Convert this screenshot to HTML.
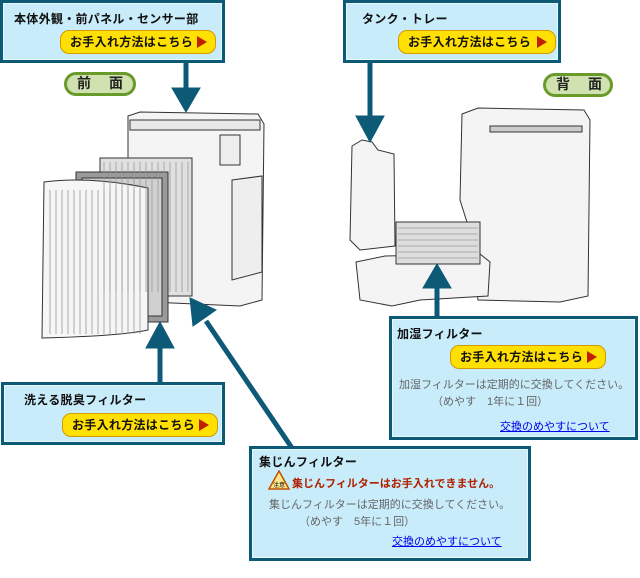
<!DOCTYPE html>
<html><head><meta charset="utf-8"><style>
body{margin:0;width:640px;height:578px;background:#fff;position:relative;overflow:hidden;font-family:"Liberation Sans","Noto Sans CJK JP",sans-serif;}
.box{position:absolute;background:#c8ecfa;border:3px solid #0d5a77;box-shadow:inset 0 0 0 1px #e8f8ff;box-sizing:border-box;}
.t{position:absolute;font-size:12px;font-weight:bold;color:#111;white-space:nowrap;letter-spacing:0.3px}
.btn{position:absolute;height:24px;background:#ffe000;border:1px solid #d49a00;border-radius:9px;box-sizing:border-box;font-size:12px;font-weight:bold;color:#111;line-height:22px;padding-left:9px;white-space:nowrap;letter-spacing:0.3px}
.btn:after{content:"";position:absolute;right:8px;top:5px;border-left:10px solid #c02000;border-top:6px solid transparent;border-bottom:6px solid transparent}
.g{position:absolute;font-size:11px;color:#666;white-space:nowrap}
.lk{position:absolute;font-size:11px;color:#0000ee;text-decoration:underline;white-space:nowrap}
.pill{position:absolute;background:#cfe2b0;border:3px solid #6a9a2a;border-radius:12px;box-sizing:border-box;font-size:14px;font-weight:bold;color:#222;line-height:17px;}
</style></head><body>
<svg width="640" height="578" style="position:absolute;left:0;top:0">
<g stroke="#333" stroke-width="1" fill="#f4f4f4">
<path d="M128 116 L140 112 L258 114 L264 124 L262 300 L240 306 L150 302 L128 298 Z"/>
<rect x="130" y="120" width="130" height="10" fill="#e8e8e8"/>
<path d="M232 180 L262 176 L262 272 L232 280 Z" fill="#eee"/>
<rect x="220" y="135" width="20" height="30" fill="#eee"/>
<rect x="100" y="158" width="92" height="138" fill="#e0e0e0"/>
<rect x="76" y="172" width="92" height="150" fill="#9a9a9a"/>
<rect x="82" y="178" width="80" height="138" fill="#d0d0d0"/>
<path d="M44 182 Q90 176 148 188 L148 330 Q120 336 42 338 Z" fill="#f6f6f6"/>
<path d="M462 114 L478 108 L584 110 L590 120 L588 296 L560 302 L478 300 L472 238 L460 200 Z"/>
<rect x="490" y="126" width="92" height="6" fill="#ccc"/>
<path d="M352 146 L362 140 L372 142 L378 150 L394 154 L395 246 L360 250 L350 240 Z"/>
<path d="M356 262 L385 256 L480 254 L490 262 L488 296 L420 300 L392 306 L360 300 Z"/>
<rect x="396" y="222" width="84" height="42" fill="#ddd"/>
</g>
<g stroke="#999" stroke-width="0.8">
<path d="M50 190V334M56 190V334M62 190V334M68 190V334M74 190V334M80 190V334M86 190V334M92 190V334M98 190V334M104 190V334M110 190V334M116 190V334M122 190V334M128 190V334M134 190V334M140 190V334"/>
<path d="M104 162V292M110 162V292M116 162V292M122 162V292M128 162V292M134 162V292M140 162V292M146 162V292M152 162V292M158 162V292M164 162V292M170 162V292M176 162V292M182 162V292M188 162V292"/>
<path d="M398 228H478M398 234H478M398 240H478M398 246H478M398 252H478M398 258H478"/>
</g>
<g fill="#0d5a77" stroke="#0d5a77">
<line x1="186" y1="62" x2="186" y2="92" stroke-width="5"/><polygon points="172,88 200,88 186,112"/>
<line x1="370" y1="62" x2="370" y2="120" stroke-width="5"/><polygon points="356,116 384,116 370,142"/>
<line x1="437" y1="316" x2="437" y2="286" stroke-width="5"/><polygon points="423,288 451,288 437,264"/>
<line x1="160" y1="382" x2="160" y2="345" stroke-width="5"/><polygon points="146,348 174,348 160,322"/>
<line x1="292" y1="448" x2="206" y2="321" stroke-width="5"/><polygon points="190,298 193,326 216,310"/>
</g>
</svg>
<div class="pill" style="left:64px;top:72px;width:72px;height:24px;"><span style="position:absolute;left:10px">前</span><span style="position:absolute;left:42px">面</span></div>
<div class="pill" style="left:543px;top:73px;width:70px;height:24px;"><span style="position:absolute;left:10px">背</span><span style="position:absolute;left:42px">面</span></div>

<div class="box" style="left:0;top:0;width:225px;height:63px"></div>
<div class="t" style="left:14px;top:10px">本体外観・前パネル・センサー部</div>
<div class="btn" style="left:60px;top:30px;width:156px">お手入れ方法はこちら</div>

<div class="box" style="left:343px;top:0;width:218px;height:63px"></div>
<div class="t" style="left:362px;top:10px">タンク・トレー</div>
<div class="btn" style="left:398px;top:30px;width:158px">お手入れ方法はこちら</div>

<div class="box" style="left:389px;top:316px;width:249px;height:124px"></div>
<div class="t" style="left:397px;top:325px">加湿フィルター</div>
<div class="btn" style="left:450px;top:345px;width:156px">お手入れ方法はこちら</div>
<div class="g" style="left:399px;top:376px">加湿フィルターは定期的に交換してください。</div>
<div class="g" style="left:432px;top:393px">（めやす　1年に１回）</div>
<div class="lk" style="left:500px;top:418px">交換のめやすについて</div>

<div class="box" style="left:1px;top:382px;width:224px;height:63px"></div>
<div class="t" style="left:24px;top:391px">洗える脱臭フィルター</div>
<div class="btn" style="left:62px;top:413px;width:156px">お手入れ方法はこちら</div>

<div class="box" style="left:249px;top:446px;width:282px;height:115px"></div>
<div class="t" style="left:259px;top:453px">集じんフィルター</div>
<svg style="position:absolute;left:268px;top:470px" width="22" height="20"><polygon points="11,1 21,19 1,19" fill="#ffe88a" stroke="#c05000" stroke-width="1.5"/><text x="11" y="17" font-size="6" text-anchor="middle" font-family="Noto Sans CJK JP">注意</text></svg>
<div style="position:absolute;left:292px;top:475px;font-size:11px;font-weight:bold;color:#b02000;white-space:nowrap">集じんフィルターはお手入れできません。</div>
<div class="g" style="left:269px;top:496px">集じんフィルターは定期的に交換してください。</div>
<div class="g" style="left:299px;top:513px">（めやす　5年に１回）</div>
<div class="lk" style="left:392px;top:533px">交換のめやすについて</div>
</body></html>
